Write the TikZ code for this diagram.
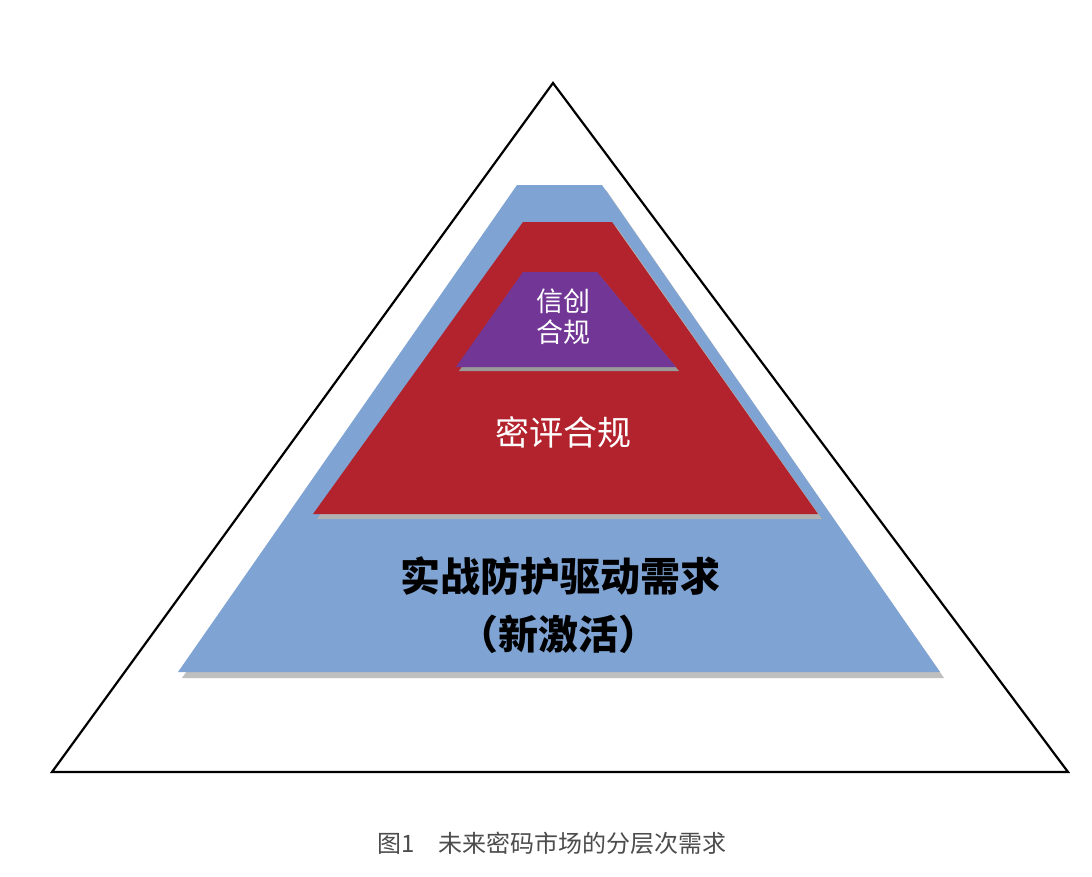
\documentclass[tikz,border=0pt]{standalone}
\usepackage{fontspec}
\setmainfont{Noto Sans CJK SC}
\begin{document}
\begin{tikzpicture}[x=1pt,y=-1pt,
  lbl/.style={inner sep=0pt,align=center}]
\useasboundingbox[fill=white] (0,0) rectangle (1092,876);
\draw[line width=2.2pt,line join=miter] (553,83) -- (1068,772) -- (52,772) -- cycle;
% blue
\fill[black!25] (521,190) -- (606,190) -- (944,678) -- (182,678) -- cycle;
\fill[fill={rgb,255:red,127;green,163;blue,210}] (517,185) -- (602,185) -- (940,672) -- (178,672) -- cycle;
% red
\fill[black!30] (527,226) -- (616,226) -- (822,519) -- (317,519) -- cycle;
\fill[fill={rgb,255:red,178;green,35;blue,45}] (523,222) -- (612,222) -- (818,514) -- (313,514) -- cycle;
% purple
\fill[black!40] (526,276) -- (600,276) -- (679,371) -- (459,371) -- cycle;
\fill[fill={rgb,255:red,114;green,55;blue,150}] (523,272) -- (597,272) -- (676,367) -- (456,367) -- cycle;
\node[lbl,text=white,font=\fontsize{27}{31}\selectfont] (p) at (563,317) {信创\\合规};
\node[lbl,text=white,font=\fontsize{34}{38}\selectfont] (r) at (563,432) {密评合规};
\node[lbl,font=\bfseries\fontsize{40}{46}\selectfont] (b1) at (560,576) {实战防护驱动需求};
\node[lbl,font=\bfseries\fontsize{40}{46}\selectfont] (b2) at (558,634) {（新激活）};
\node[lbl,text=black!70,font=\fontsize{24}{28}\selectfont] (c) at (552,843) {图1\quad 未来密码市场的分层次需求};
\end{tikzpicture}
\end{document}
